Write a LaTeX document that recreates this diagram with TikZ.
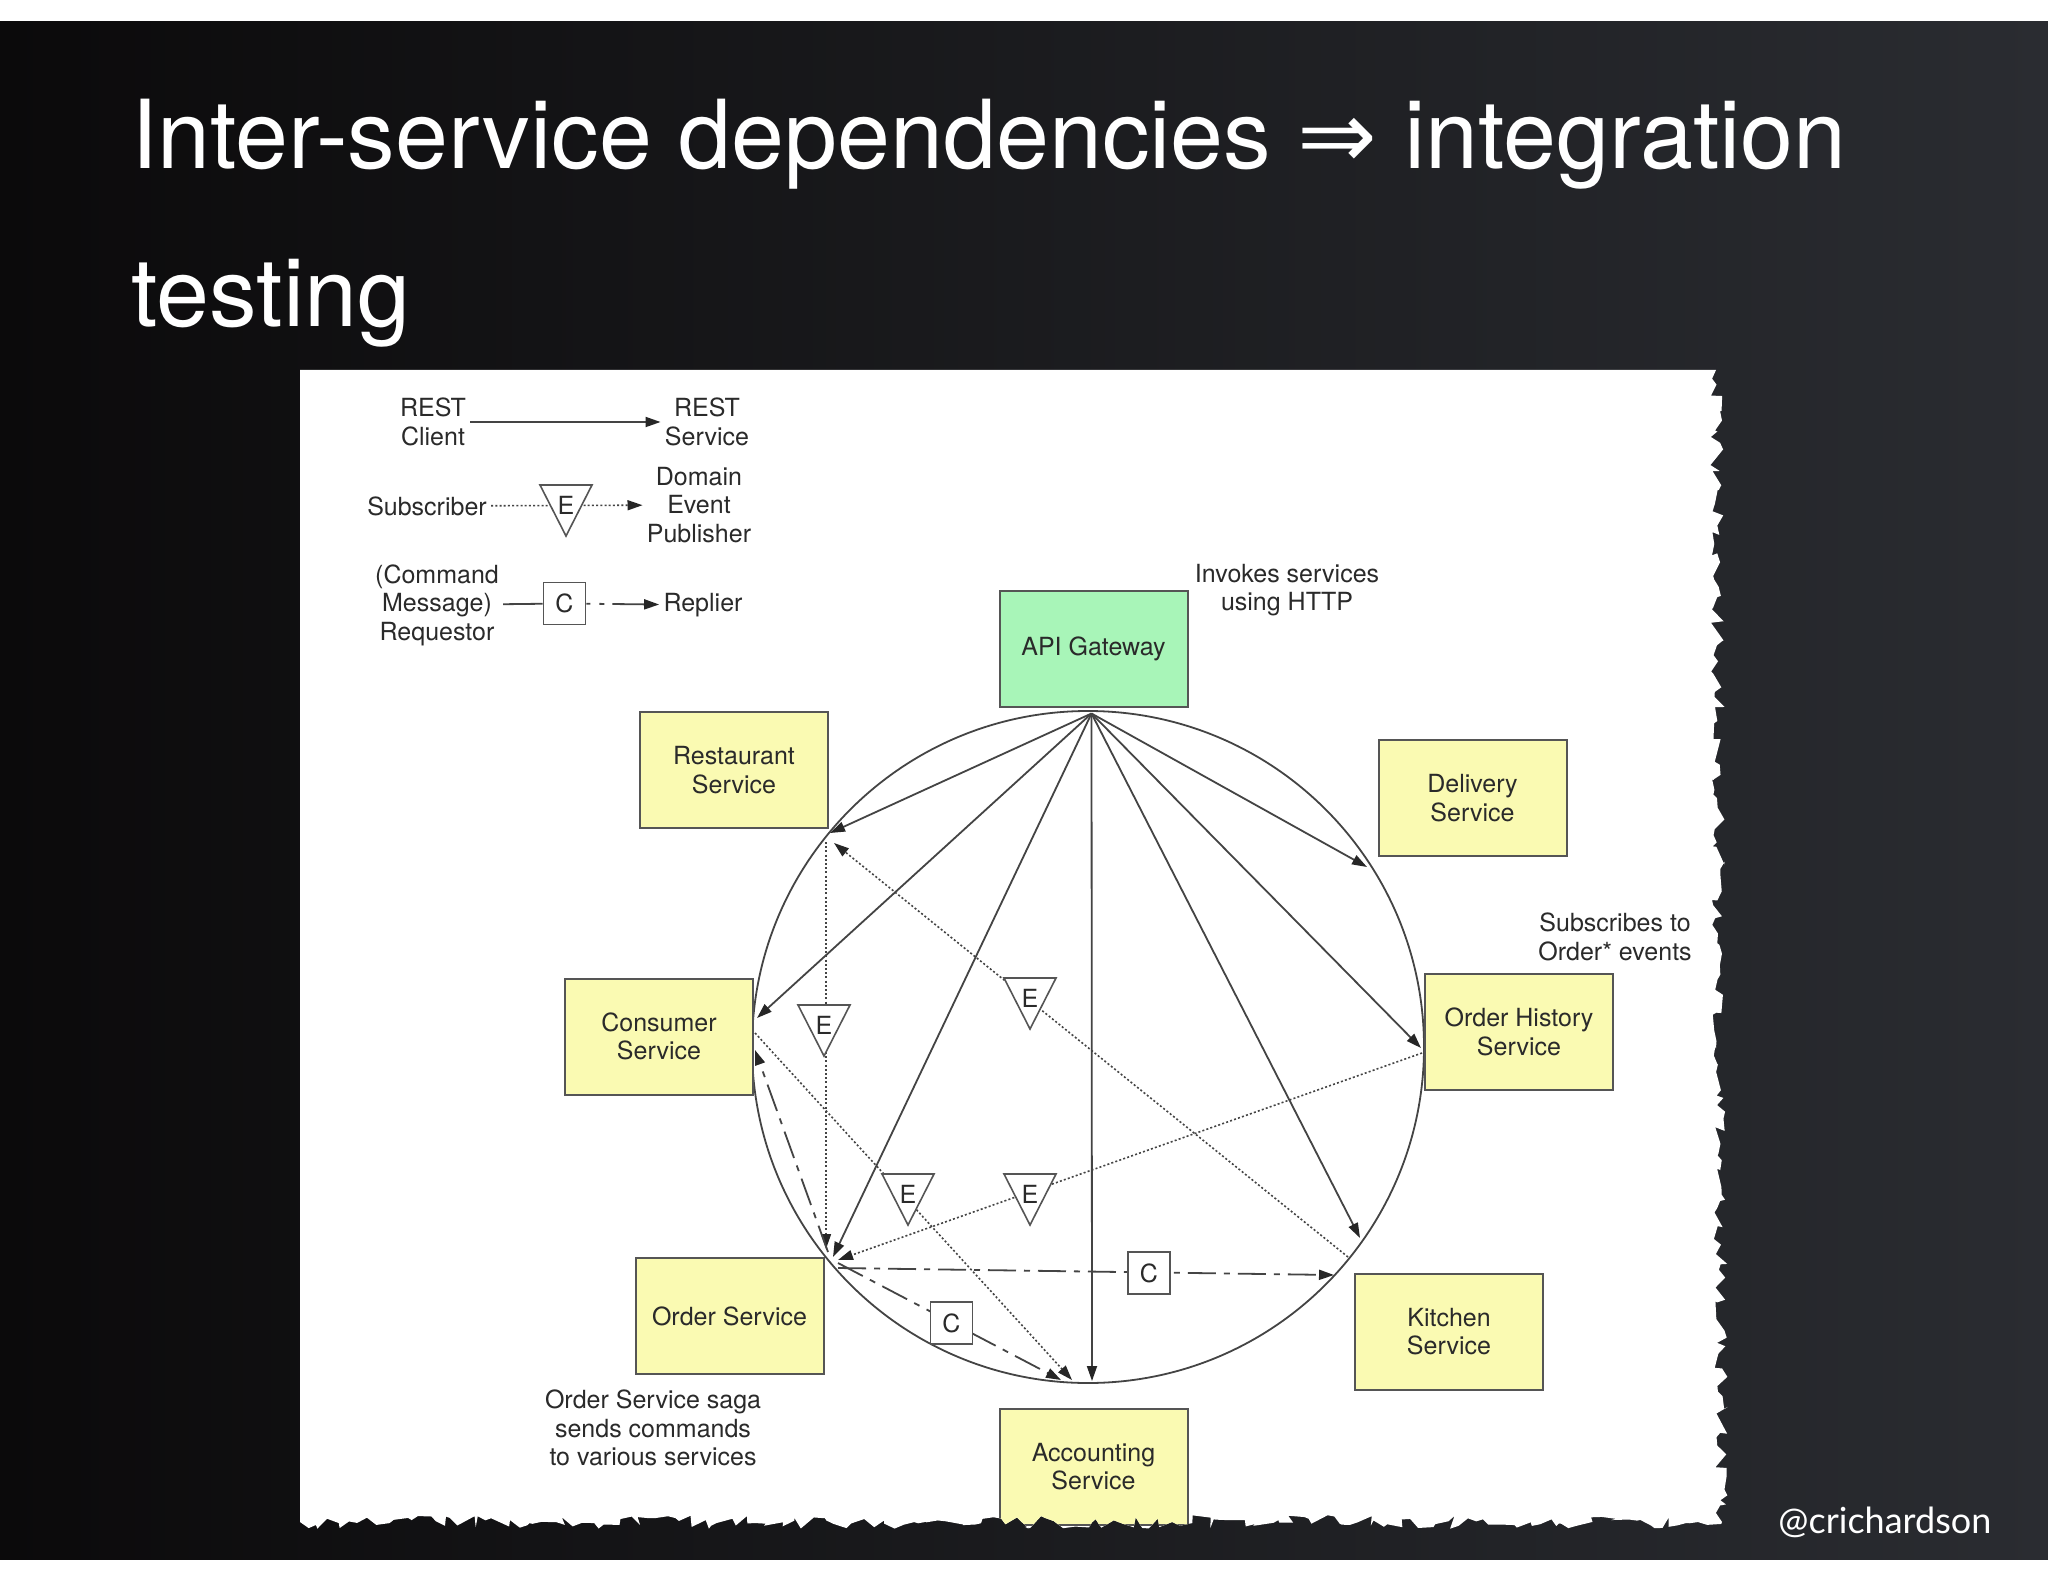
\documentclass[tikz,border=0pt]{standalone}
\usepackage{fontspec}
\setmainfont{TeX Gyre Heros}
\newfontfamily\symfont{DejaVu Sans}
\newfontfamily\wmfont{Lato}
\usetikzlibrary{arrows.meta,calc,decorations.pathmorphing}
\definecolor{boxy}{HTML}{FAFAB2}
\definecolor{gwgreen}{HTML}{A8F5B8}
\definecolor{bord}{HTML}{555555}
\definecolor{ln}{HTML}{444444}
\definecolor{txt}{HTML}{2A2A2A}
\definecolor{bgL}{HTML}{0B0A0B}
\definecolor{bgR}{HTML}{2A2C31}
\newcommand\diafont{\fontsize{12.5}{14.2}\selectfont}
\newcommand\evtri[2]{%
  \path (#2) coordinate (#1c);
  \draw[etri] ($(#1c)+(-26,-20)$) -- ($(#1c)+(26,-20)$) -- ($(#1c)+(0,31)$) -- cycle;
  \node[etxt] (#1) at (#1c) {E};}
\tikzset{
  svc/.style={draw=bord, line width=1pt, fill=boxy, minimum width=94pt, minimum height=58pt, align=center, font=\diafont, text=txt, inner sep=0pt},
  gw/.style={svc, fill=gwgreen},
  lbl/.style={align=center, font=\diafont, text=txt, inner sep=2pt},
  conn/.style={draw=ln, line width=0.9pt},
  tip/.style={-{Triangle[length=7.5pt,width=5pt,color=black!85]}},
  restarrow/.style={conn, tip},
  evt/.style={conn, line width=0.8pt, dash pattern=on 1pt off 1.1pt, tip},
  cmd/.style={conn, dash pattern=on 14pt off 4pt on 3pt off 4pt, tip},
  legcmd/.style={conn, dash pattern=on 2pt off 4.5pt on 2.5pt off 4pt on 40pt off 1pt, tip},
  etri/.style={draw=bord, fill=white, line width=0.8pt, line join=miter},
  etxt/.style={font=\diafont, text=txt, inner sep=0pt},
  cbox/.style={draw=bord, fill=white, line width=0.9pt, minimum size=21pt, inner sep=0pt, font=\diafont, text=txt}
}
\begin{document}
\begin{tikzpicture}[x=0.5pt,y=-0.5pt]
\useasboundingbox (0,0) rectangle (2048,1582);
\fill[white] (0,0) rectangle (2048,1582);
\shade[left color=bgL, right color=bgR] (0,22) rectangle (2048,1559);

% title
\node[anchor=base west, text=white, inner sep=0pt, font=\fontsize{47.6}{56}\selectfont] (title1) at (131,169) {Inter-service dependencies {\symfont ⇒} integration};
\node[anchor=base west, text=white, inner sep=0pt, font=\fontsize{47.6}{56}\selectfont] (title2) at (131,327) {testing};

% paper
\begin{scope}
\pgfmathsetseed{42}
\clip (300,370) -- (1716,370) decorate[decoration={random steps,segment length=3.5pt,amplitude=3.4pt}]{ -- (1722,1522) -- (300,1522)} -- cycle;
\fill[white] (0,0) rectangle (2048,1582);

% legend
\node[lbl] (rcli) at (433,422) {REST\\Client};
\node[lbl] (rsrv) at (707,422) {REST\\Service};
\draw[restarrow] (rcli) -- (rsrv);
\node[lbl] (subs) at (427,506) {Subscriber};
\node[lbl] (pub) at (699,505) {Domain\\Event\\Publisher};
\draw[evt] (subs) -- (pub);
\evtri{le}{566,505}
\node[lbl] (req) at (437,605) {(Command\\Message)\\Requestor};
\node[lbl] (repl) at (703,605) {Replier};
\node[cbox] (lc) at (564.5,603.5) {C};
\draw[conn] (req) -- (lc);
\draw[legcmd] (lc) -- (repl);

% annotations
\node[lbl] (inv) at (1287,590) {Invokes services\\using HTTP};
\node[lbl] (subn) at (1615,937) {Subscribes to\\Order* events};
\node[lbl] (saga) at (653,1428) {Order Service saga\\sends commands\\to various services};

% circle
\coordinate (ctr) at (1088,1047);
\draw[conn] (ctr) circle[radius=336];

% services
\node[gw] (api) at (1093.5,648.5) {API Gateway};
\node[svc] (rest) at (734,770) {Restaurant\\Service};
\node[svc] (deliv) at (1472.5,798) {Delivery\\Service};
\node[svc] (cons) at (659,1036.5) {Consumer\\Service};
\node[svc] (ohist) at (1519,1032) {Order History\\Service};
\node[svc] (kitch) at (1449,1331.5) {Kitchen\\Service};
\node[svc] (order) at (729.5,1316) {Order Service};
\node[svc] (acct) at (1093.5,1466.5) {Accounting\\Service};

% end points on the circle
\coordinate (hub) at ($(api.south)+(-2,6)$);
\coordinate (eRest) at (830,833);
\coordinate (eCons) at (757,1018);
\coordinate (eOrd) at (833,1257);
\coordinate (eAcc) at (1092,1381);
\coordinate (eKit) at (1360,1238);
\coordinate (eOH) at (1421,1048);
\coordinate (eDel) at (1367,867);

% REST calls from API gateway
\foreach \e in {eRest,eCons,eOrd,eAcc,eKit,eOH,eDel}
  \draw[restarrow] (hub) -- (\e);

% domain events
\coordinate (kitA) at (1348,1257);
\coordinate (restB) at (834,843);
\draw[evt] (kitA) -- (restB);
\coordinate (restV) at (826,842);
\coordinate (ordV) at (826,1249);
\draw[evt] (restV) -- (ordV);
\coordinate (consA) at (755,1033);
\coordinate (accB) at (1072,1380);
\draw[evt] (consA) -- (accB);
\coordinate (ohA) at (1422,1053);
\coordinate (ordB) at (838,1260);
\draw[evt] (ohA) -- (ordB);

% commands
\coordinate (ordC1) at (828,1252);
\coordinate (consC) at (755,1050);
\draw[cmd] (ordC1) -- (consC);
\coordinate (ordC2) at (838,1268);
\coordinate (kitC) at (1334,1275);
\draw[cmd] (ordC2) -- (kitC);
\coordinate (ordC3) at (838,1263);
\coordinate (accC) at (1061,1380);
\draw[cmd] (ordC3) -- (accC);

% event triangles and command boxes
\evtri{e1}{824,1025}
\evtri{e2}{1030,998}
\evtri{e3}{908,1194}
\evtri{e4}{1030,1194}
\node[cbox] (c1) at (951.5,1323) {C};
\node[cbox] (c2) at (1149,1273) {C};
\end{scope}

% watermark
\node[anchor=base west, text=white, inner sep=0pt, font=\wmfont\fontsize{18}{20}\selectfont] (wm) at (1778,1533) {@crichardson};
\end{tikzpicture}
\end{document}
